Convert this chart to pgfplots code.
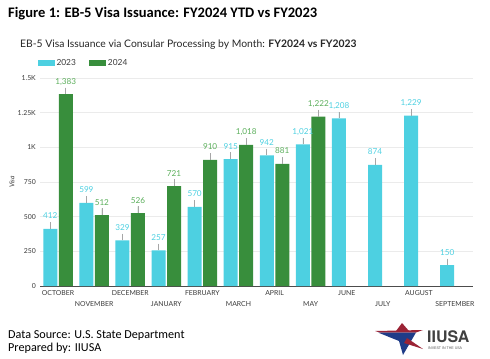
\documentclass[border=0pt]{standalone}
\usepackage{fontspec}
\setmainfont{Carlito}
\newfontfamily\lato{Lato}
\newfontfamily\heros{TeX Gyre Heros}
\usepackage{pgfplots}
\pgfplotsset{compat=1.18}
\definecolor{cyanbar}{HTML}{4DD0E1}
\definecolor{greenbar}{HTML}{388E3C}
\definecolor{greenlab}{HTML}{5AAE5A}
\definecolor{gridc}{HTML}{EBEBEB}
\definecolor{txt}{HTML}{3A3A3A}
\definecolor{logored}{HTML}{9B2335}
\definecolor{logoblue}{HTML}{1F3C88}
\begin{document}
\begin{tikzpicture}[x=1bp,y=1bp]
\path (0,0) rectangle (490,358);
\node[anchor=base west, inner sep=0] at (8,341) {\bfseries\fontsize{14.6}{17}\selectfont Figure 1: EB-5 Visa Issuance: FY2024 YTD vs FY2023};
\node[anchor=base west, inner sep=0, text=black!85] at (20,311) {\lato\fontsize{10.4}{13}\selectfont EB-5 Visa Issuance via Consular Processing by Month: \textbf{FY2024 vs FY2023}};
\node[anchor=base west, inner sep=0] at (8,20) {\fontsize{12.2}{14}\selectfont Data Source: U.S. State Department};
\node[anchor=base west, inner sep=0] at (8,7) {\fontsize{12.2}{14}\selectfont Prepared by: IIUSA};
% logo
\fill[logored] (396,27) -- (402,35) -- (409,27) -- cycle;
\fill[logored] (375,27) -- (423,28) -- (416,25.5) -- (380,25.5) -- cycle;
\fill[logoblue] (378,25.5) -- (416,25.5) -- (403,3) -- (399,17) -- cycle;
\fill[logored] (407,20) -- (423,9) -- (404,15) -- cycle;
\node[anchor=base west, inner sep=0, text=black!75] at (427,16) {\heros\bfseries\fontsize{16}{18}\selectfont IIUSA};
\node[anchor=base west, inner sep=0, text=black!65] at (428,9) {\heros\fontsize{3.6}{4}\selectfont INVEST IN THE USA};
\begin{axis}[
  at={(40bp,72bp)}, anchor=south west,
  scale only axis, width=433bp, height=208bp,
  xmin=-0.5, xmax=11.5, ymin=0, ymax=1500,
  ybar=1.5bp, bar width=14bp,
  axis x line*=bottom, axis y line*=left,
  x axis line style={draw=black!70, line width=0.8bp},
  y axis line style={draw=none},
  major tick length=0pt,
  xtick={0,...,11},
  xticklabels={OCTOBER,NOVEMBER,DECEMBER,JANUARY,FEBRUARY,MARCH,APRIL,MAY,JUNE,JULY,AUGUST,SEPTEMBER},
  xticklabel style={font=\lato\fontsize{6.9}{7}\selectfont, text=txt, inner sep=0pt, anchor=north, yshift={-4-mod(\ticknum,2)*11}},
  ytick={0,250,500,750,1000,1250,1500},
  yticklabels={0,250,500,750,1K,1.25K,1.5K},
  yticklabel style={font=\lato\fontsize{6.9}{7}\selectfont, text=txt, inner sep=0pt, xshift=-4bp},
  ymajorgrids, grid style={draw=gridc, line width=0.6bp},
  ylabel={Visa}, ylabel style={font=\lato\itshape\fontsize{6.8}{7}\selectfont, text=txt, at={(axis description cs:-0.065,0.5)}, anchor=center},
  /pgf/number format/.cd, 1000 sep={,}, fixed, precision=0, assume math mode=true,
  /pgfplots/.cd,
  nodes near coords,
  every node near coord/.append style={font=\lato\fontsize{8.2}{9}\selectfont, inner sep=0pt, anchor=base, yshift=10bp},
  error bars/y dir=plus, error bars/y fixed=48,
  error bars/error mark=none,
  error bars/error bar style={draw=black!35, line width=0.6bp},
  legend style={at={(axis description cs:-0.005,1.072)}, anchor=west, draw=none, fill=none, inner sep=0pt, legend columns=2,
    font=\lato\fontsize{8.4}{9}\selectfont, text=txt,
    /tikz/every even column/.append style={column sep=12bp},
    nodes={inner sep=1.5bp}},
  legend image code/.code={\fill[#1] (0bp,-3.3bp) rectangle (17bp,3.3bp);},
]
\addplot[fill=cyanbar, draw=none, every node near coord/.append style={text=cyanbar}] coordinates {
(0,412) (1,599) (2,329) (3,257) (4,570) (5,915) (6,942) (7,1021) (8,1208) (9,874) (10,1229) (11,150)};
\addplot[fill=greenbar, draw=none, every node near coord/.append style={text=greenlab}] coordinates {
(0,1383) (1,512) (2,526) (3,721) (4,910) (5,1018) (6,881) (7,1222)};
\legend{2023,2024}
\end{axis}
\end{tikzpicture}
\end{document}
